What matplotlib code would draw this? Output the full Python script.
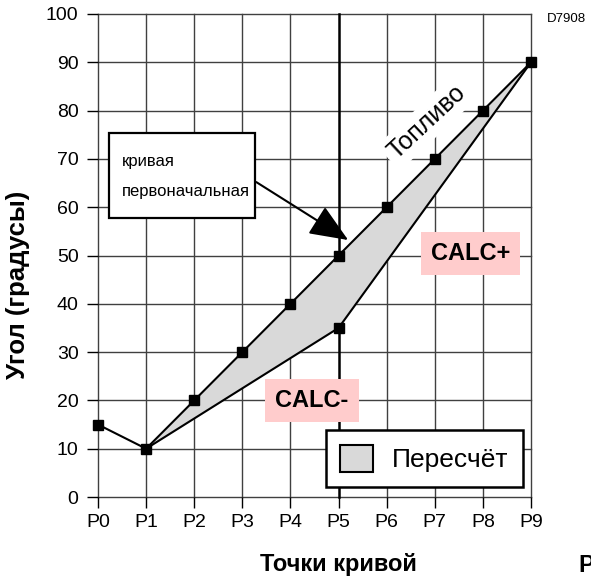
import matplotlib
matplotlib.use("Agg")
import matplotlib.pyplot as plt
from matplotlib.patches import Patch, Rectangle
import numpy as np

plt.rcParams['font.family'] = ['Liberation Sans', 'DejaVu Sans']

categories = ["P0", "P1", "P2", "P3", "P4", "P5", "P6", "P7", "P8", "P9"]
fuel = [15, 10, 20, 30, 40, 50, 60, 70, 80, 90]
recalc_idx = [1, 5, 9]
recalc_vals = [10, 35, 90]
yticks = [0, 10, 20, 30, 40, 50, 60, 70, 80, 90, 100]

fig = plt.figure(figsize=(5.91, 5.81), dpi=100)
ax = fig.add_axes([98/591, 1-497/581, 433/591, 483/581])
x = list(range(len(categories)))
ax.set_xlim(0, 9)
ax.set_ylim(0, 100)

grid_c = '#404040'
for v in yticks:
    ax.axhline(v, color=grid_c, lw=1.0, zorder=1, clip_on=False)
for i in x:
    if categories[i] == "P5":
        ax.axvline(i, color='black', lw=1.8, zorder=1, clip_on=False)
    else:
        ax.axvline(i, color=grid_c, lw=1.0, zorder=1, clip_on=False)
for s in ax.spines.values():
    s.set_visible(False)

xs = np.array(x[1:], dtype=float)
lower = np.interp(xs, recalc_idx, recalc_vals)
upper = np.array(fuel[1:], dtype=float)
ax.fill_between(xs, lower, upper, color='#d9d9d9', zorder=2, lw=0)
ax.plot(recalc_idx, recalc_vals, color='black', lw=1.5, zorder=3, clip_on=False)
ax.plot([5], [35], 's', color='black', ms=6.5, zorder=4, clip_on=False)
ax.plot(x, fuel, color='black', lw=1.5, marker='s', ms=6.8, zorder=4, clip_on=False)

ax.set_xticks(x)
ax.set_xticklabels(categories, fontsize=14)
ax.set_yticks(yticks)
ax.set_yticklabels([str(v) for v in yticks], fontsize=14)
ax.tick_params(axis='y', direction='out', length=8, width=1, color='black', pad=6)
ax.tick_params(axis='x', direction='out', length=8, width=1, color='black', pad=4)

fig.text(18/591, 1-285/581, "Угол (градусы)", fontsize=18.5, fontweight='bold',
         rotation=90, ha='center', va='center')
fig.text(338/591, 1-565/581, "Точки кривой", fontsize=17, fontweight='bold', ha='center', va='center')
fig.text(578/591, 1-565/581, "P", fontsize=17, fontweight='bold', ha='left', va='center')
fig.text(547/591, 1-19/581, "D7908", fontsize=9.5, ha='left', va='center')

# callout box
ax.add_patch(Rectangle((0.23, 57.8), 3.03, 17.6, fc='white', ec='black', lw=1.6, zorder=6))
ax.text(0.5, 69.5, "кривая", fontsize=12, ha='left', va='center', zorder=7)
ax.text(0.5, 63.2, "первоначальная", fontsize=12, ha='left', va='center', zorder=7)
ax.annotate("", xy=(5.2, 53.2), xytext=(3.29, 65.2),
            arrowprops=dict(arrowstyle='-|>,head_length=2.4,head_width=1.0', color='black', lw=1.5,
                            shrinkA=0, shrinkB=0),
            zorder=6)

ax.text(6.84, 77.6, "Топливо", fontsize=18, rotation=43, ha='center', va='center',
        rotation_mode='anchor',
        bbox=dict(boxstyle='square,pad=0.2', fc='white', ec='none'), zorder=5)

ax.text(7.75, 50.5, "CALC+", fontsize=17, fontweight='bold', ha='center', va='center',
        bbox=dict(boxstyle='square,pad=0.42', fc='#ffcccc', ec='none'), zorder=5)
ax.text(4.45, 19.9, "CALC-", fontsize=17, fontweight='bold', ha='center', va='center',
        bbox=dict(boxstyle='square,pad=0.42', fc='#ffcccc', ec='none'), zorder=5)

leg = ax.legend(handles=[Patch(facecolor='#d9d9d9', edgecolor='black', lw=1.5, label='Пересчёт')],
                loc='lower right', bbox_to_anchor=(0.982, 0.021), borderaxespad=0,
                fontsize=19, frameon=True, fancybox=False, framealpha=1, edgecolor='black',
                handlelength=1.25, handleheight=1.2, borderpad=0.55, handletextpad=0.72)
leg.get_frame().set_linewidth(1.8)
leg.set_zorder(7)

fig.savefig("out.png", dpi=100)
